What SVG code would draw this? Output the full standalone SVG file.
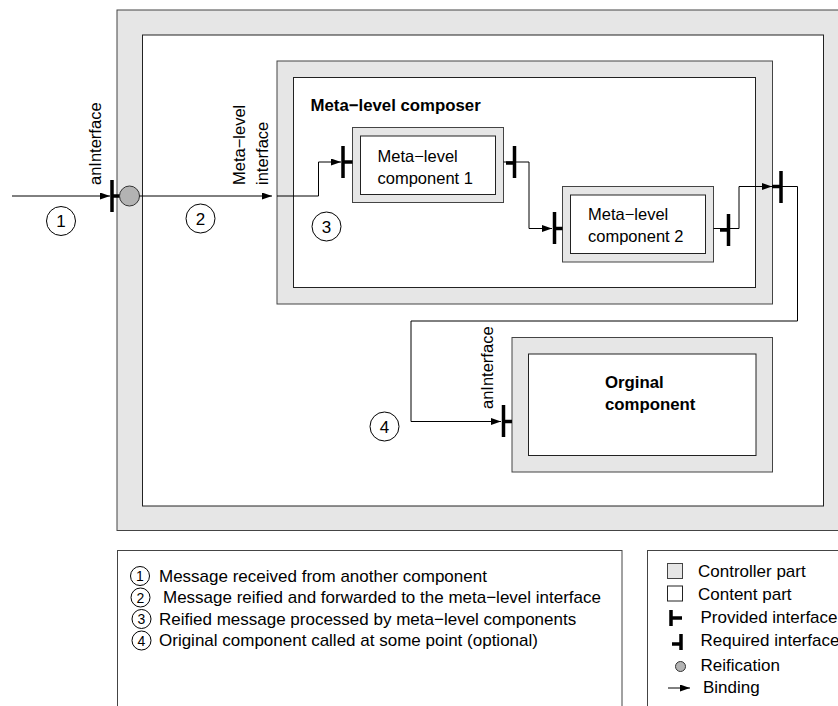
<svg xmlns="http://www.w3.org/2000/svg" width="838" height="706" viewBox="0 0 838 706">
<style>
text{font-family:"Liberation Sans",Arial,Helvetica,sans-serif;fill:#000}
.lbl{font-size:16.5px}
.b{font-weight:bold;font-size:16.8px}
.ctrl{fill:#e6e6e6;stroke:#444;stroke-width:1}
.cont{fill:#fff;stroke:#222;stroke-width:1}
.wire{fill:none;stroke:#000;stroke-width:1}
.bar{stroke:#000;stroke-width:3.5;fill:none}
.num{fill:#fff;stroke:#000;stroke-width:1}
.n{font-size:17px;text-anchor:middle}
.ln{font-size:14px;text-anchor:middle}
.leg{font-size:17px}
</style>
<defs>
<marker id="ah" markerWidth="10" markerHeight="7" refX="10" refY="3.5" orient="auto" markerUnits="userSpaceOnUse">
<path d="M0,0 L10,3.5 L0,7 Z" fill="#000"/>
</marker>
</defs>

<g id="outer-component">
<rect class="ctrl" x="117" y="10" width="740" height="520.5"/>
<rect class="cont" x="142.5" y="35" width="681" height="471"/>
</g>

<g id="meta-level-composer">
<rect class="ctrl" x="277" y="61" width="495.5" height="243"/>
<rect class="cont" x="293.5" y="77.5" width="462" height="210"/>
<text class="lbl b" x="310.5" y="111">Meta−level composer</text>
</g>

<g id="meta-level-component-1">
<rect class="ctrl" x="352.5" y="127.5" width="151" height="75"/>
<rect class="cont" x="360.5" y="136" width="135" height="58.5"/>
<text class="lbl" x="377.5" y="162">Meta−level</text>
<text class="lbl" x="377.5" y="184">component 1</text>
</g>

<g id="meta-level-component-2">
<rect class="ctrl" x="562.5" y="186.5" width="151" height="75.5"/>
<rect class="cont" x="570.5" y="195" width="135" height="58.5"/>
<text class="lbl" x="588" y="220">Meta−level</text>
<text class="lbl" x="588" y="242">component 2</text>
</g>

<g id="original-component">
<rect class="ctrl" x="512" y="337.5" width="260.5" height="134.5"/>
<rect class="cont" x="528.5" y="354" width="227.5" height="101.5"/>
<text class="lbl b" x="605" y="388">Orginal</text>
<text class="lbl b" x="605" y="410">component</text>
</g>

<g id="interfaces">
<line class="bar" x1="112" y1="180" x2="112" y2="212"/>
<line class="bar" x1="112" y1="196" x2="120" y2="196"/>
<circle cx="129.5" cy="196" r="10" fill="#b3b3b3" stroke="#333" stroke-width="1"/>
<line class="bar" x1="343" y1="146" x2="343" y2="178"/>
<line class="bar" x1="343" y1="162" x2="352.5" y2="162"/>
<line class="bar" x1="514.5" y1="146" x2="514.5" y2="178"/>
<line class="bar" x1="506" y1="163" x2="514.5" y2="163"/>
<line class="bar" x1="554.5" y1="212" x2="554.5" y2="244"/>
<line class="bar" x1="554.5" y1="228.5" x2="562.5" y2="228.5"/>
<line class="bar" x1="728.5" y1="214" x2="728.5" y2="246"/>
<line class="bar" x1="720" y1="230" x2="728.5" y2="230"/>
<line class="bar" x1="781" y1="171" x2="781" y2="203"/>
<line class="bar" x1="772" y1="186.5" x2="781" y2="186.5"/>
<line class="bar" x1="503.5" y1="405" x2="503.5" y2="437"/>
<line class="bar" x1="503.5" y1="421.5" x2="512" y2="421.5"/>
</g>

<g id="connectors">
<line class="wire" x1="12" y1="196" x2="110" y2="196" marker-end="url(#ah)"/>
<line class="wire" x1="139.5" y1="196" x2="272" y2="196" marker-end="url(#ah)"/>
<polyline class="wire" points="277,196 318.5,196 318.5,162 341,162" marker-end="url(#ah)"/>
<polyline class="wire" points="503.5,162 529,162 529,228.5 552,228.5" marker-end="url(#ah)"/>
<polyline class="wire" points="713.5,228.5 739,228.5 739,186.5 772,186.5" marker-end="url(#ah)"/>
<polyline class="wire" points="781,186.5 797.5,186.5 797.5,321 411,321 411,421.5 501,421.5" marker-end="url(#ah)"/>
</g>

<g id="labels">
<text class="lbl" transform="translate(101,185) rotate(-90)">anInterface</text>
<text class="lbl" transform="translate(245,185) rotate(-90)">Meta−level</text>
<text class="lbl" transform="translate(268,185) rotate(-90)">interface</text>
<text class="lbl" transform="translate(493,409) rotate(-90)">anInterface</text>
</g>

<g id="step-markers">
<circle class="num" cx="61" cy="221" r="14.5"/><text class="n" x="61" y="227">1</text>
<circle class="num" cx="200.5" cy="218.5" r="14.5"/><text class="n" x="200.5" y="224.5">2</text>
<circle class="num" cx="326.5" cy="226.5" r="14.5"/><text class="n" x="326.5" y="232.5">3</text>
<circle class="num" cx="384.5" cy="426.5" r="14.5"/><text class="n" x="384.5" y="432.5">4</text>
</g>

<g id="legend-steps">
<rect x="117.5" y="550.5" width="504.5" height="170" fill="#fff" stroke="#444"/>
<circle class="num" cx="140" cy="576" r="9.5"/><text class="ln" x="140" y="581">1</text>
<text class="leg" x="159" y="581.5">Message received from another component</text>
<circle class="num" cx="140.5" cy="597.5" r="9.5"/><text class="ln" x="140.5" y="602.5">2</text>
<text class="leg" x="163" y="603">Message reified and forwarded to the meta−level interface</text>
<circle class="num" cx="141.5" cy="619" r="9.5"/><text class="ln" x="141.5" y="624">3</text>
<text class="leg" x="159" y="624.5">Reified message processed by meta−level components</text>
<circle class="num" cx="141.5" cy="640.5" r="9.5"/><text class="ln" x="141.5" y="645.5">4</text>
<text class="leg" x="159" y="646">Original component called at some point (optional)</text>
</g>

<g id="legend-symbols">
<rect x="647.5" y="550.5" width="210" height="170" fill="#fff" stroke="#444"/>
<rect class="ctrl" x="667.5" y="563.5" width="15" height="15"/>
<text class="leg" x="698" y="577">Controller part</text>
<rect class="cont" x="667.5" y="586" width="15" height="15"/>
<text class="leg" x="698" y="599.5">Content part</text>
<line class="bar" x1="671" y1="610" x2="671" y2="626"/>
<line class="bar" x1="671" y1="618" x2="682" y2="618"/>
<text class="leg" x="700.5" y="623">Provided interface</text>
<line class="bar" x1="681" y1="634" x2="681" y2="650"/>
<line class="bar" x1="672" y1="644" x2="681" y2="644"/>
<text class="leg" x="700.5" y="645.5">Required interface</text>
<circle cx="680.5" cy="666.5" r="5" fill="#b3b3b3" stroke="#333"/>
<text class="leg" x="700.5" y="671">Reification</text>
<line class="wire" x1="668" y1="688" x2="690" y2="688" marker-end="url(#ah)"/>
<text class="leg" x="703" y="693">Binding</text>
</g>
</svg>
